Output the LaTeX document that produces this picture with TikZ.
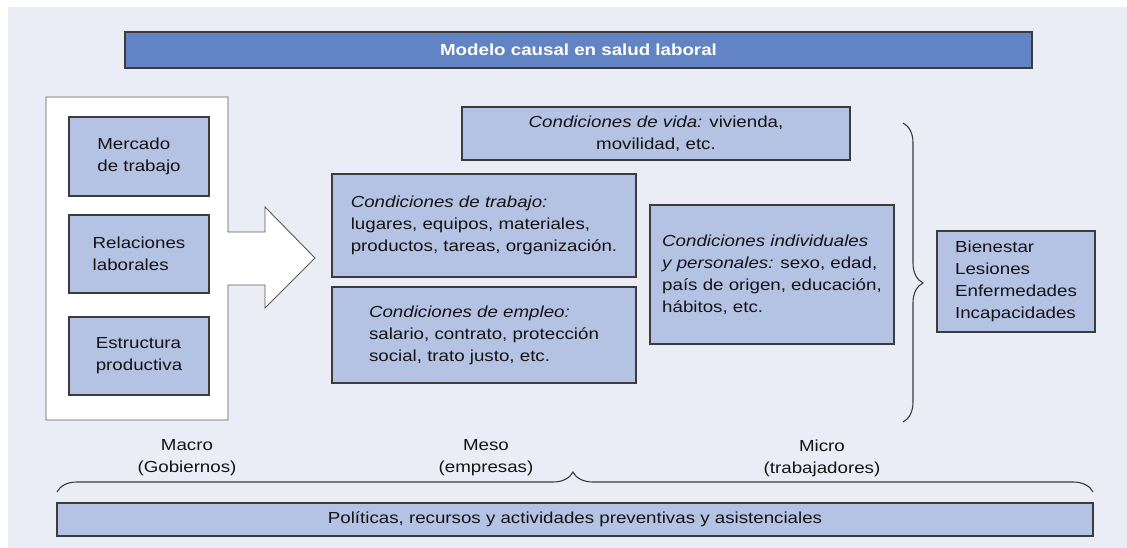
\documentclass[tikz,border=0pt]{standalone}
\usepackage{fontspec}
\setmainfont{Liberation Sans}[FakeStretch=1.17]
\usepackage{tikz}
\usetikzlibrary{positioning, calc}
\usetikzlibrary{decorations.pathreplacing}
\definecolor{fondo}{HTML}{EAEDF6}
\definecolor{cajafill}{HTML}{B4C2E4}
\definecolor{titulofill}{HTML}{6284C4}
\definecolor{borde}{HTML}{3C3C3C}
\tikzset{
  caja/.style={draw=borde, line width=1.1pt, fill=cajafill, inner sep=0pt,
    font=\fontsize{16}{22}\selectfont, text=black!92},
  titulo/.style={caja, fill=titulofill, text=white, font=\fontsize{16}{22}\selectfont\bfseries},
  nivel/.style={align=center, font=\fontsize{16}{22}\selectfont, text=black!92},
  llave/.style={decorate, line width=1.1pt, draw=borde}
}
\newcommand{\cond}[1]{\textit{#1}}

\begin{document}
\begin{tikzpicture}[x=1pt,y=-1pt]
                \useasboundingbox (0,0) rectangle (1127,548);
                \fill[fondo] (8,7) rectangle (1127,548);
                \node[titulo, minimum width=907, minimum height=36] (titulo) at (578.5,50) {Modelo causal en salud laboral};
                \draw[draw=black!65, line width=0.9pt, fill=white] (46,97) -- (228,97) -- (228,232) -- (265,232) -- (265,207)
                    -- (315,258) -- (265,308) -- (265,285) -- (228,285) -- (228,420) -- (46,420) -- cycle;
                \node[caja, minimum width=140, minimum height=79, align=left] (mercado) at (139,156.5) {Mercado\\de trabajo};
                \node[caja, minimum width=140, minimum height=78, align=left] (relaciones) at (139,254) {Relaciones\\laborales};
                \node[caja, minimum width=140, minimum height=78, align=left] (estructura) at (139,356) {Estructura\\productiva};
                \node[caja, minimum width=388, minimum height=53, align=center] (vida) at (656,133.5) {\cond{Condiciones de vida:} vivienda,\\movilidad, etc.};
                \node[caja, minimum width=304, minimum height=103, align=left] (trabajo) at (484,225.5) {\cond{Condiciones de trabajo:}\\lugares, equipos, materiales,\\productos, tareas, organización.};
                \node[caja, minimum width=304, minimum height=96, align=left] (empleo) at (484,335) {\cond{Condiciones de empleo:}\\salario, contrato, protección\\social, trato justo, etc.};
                \node[caja, minimum width=244, minimum height=139, align=left] (individual) at (772,274.5) {\cond{Condiciones individuales}\\\cond{y personales:} sexo, edad,\\país de origen, educación,\\hábitos, etc.};
                \node[caja, minimum width=158, minimum height=101, align=left] (efectos) at (1016,281.5) {Bienestar\\Lesiones\\Enfermedades\\Incapacidades};
                \coordinate (llaveA) at (903,123);
                \coordinate (llaveB) at (903,422);
                \draw[llave, decoration={brace, amplitude=20pt, aspect=0.535}] (llaveA) -- (llaveB);
                \node[nivel] (macro) at (187,458) {Macro\\(Gobiernos)};
                \node[nivel] (meso) at (486,458) {Meso\\(empresas)};
                \node[nivel] (micro) at (822,458) {Micro\\(trabajadores)};
                \coordinate (llaveC) at (57,492);
                \coordinate (llaveD) at (1093,492);
                \draw[llave, decoration={brace, amplitude=20pt, aspect=0.498}] (llaveC) -- (llaveD);
                \node[caja, minimum width=1036, minimum height=33] (politicas) at (575,519.5) {Políticas, recursos y actividades preventivas y asistenciales};
            \end{tikzpicture}
\end{document}
